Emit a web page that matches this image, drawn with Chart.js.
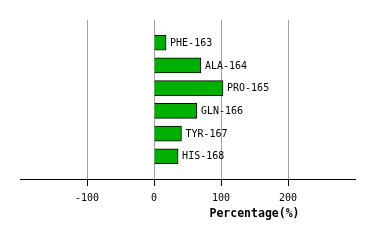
<!DOCTYPE html>
<html>
<head>
<meta charset="utf-8">
<script src="https://cdn.jsdelivr.net/npm/chart.js@4/dist/chart.umd.min.js"></script>
<style>
  html, body { margin: 0; padding: 0; background: #fff; }
  #wrap { width: 374px; height: 240px; }
</style>
</head>
<body>
<div id="wrap"><canvas id="chart"></canvas></div>
<script>
const categories = ['PHE-163', 'ALA-164', 'PRO-165', 'GLN-166', 'TYR-167', 'HIS-168'];
const percentages = [18, 70, 103, 64, 41, 36];
const tickValues = [-100, 0, 100, 200];
const axisTitle = 'Percentage(%)';

const MONO = '"DejaVu Sans Mono", "Liberation Mono", monospace';

// empty slot at each end so the bars sit like the original spacing
const labels = ['', ...categories, ''];
const values = [null, ...percentages, null];

const barLabels = {
  id: 'barLabels',
  afterDatasetsDraw(chart) {
    const ctx = chart.ctx;
    const meta = chart.getDatasetMeta(0);
    ctx.save();
    ctx.font = '10px ' + MONO;
    ctx.fillStyle = '#000';
    ctx.textBaseline = 'middle';
    ctx.textAlign = 'left';
    meta.data.forEach((bar, i) => {
      if (values[i] == null) return;
      ctx.fillText(labels[i], bar.x + 4, bar.y + 0.5);
    });
    ctx.restore();
  }
};

const axisLabel = {
  id: 'axisLabel',
  afterDraw(chart) {
    const ctx = chart.ctx;
    const x = chart.scales.x;
    ctx.save();
    ctx.font = 'bold 11.5px ' + MONO;
    ctx.fillStyle = '#000';
    ctx.textAlign = 'center';
    ctx.textBaseline = 'middle';
    ctx.fillText(axisTitle, x.getPixelForValue(150), 214);
    ctx.restore();
  }
};

const hidden = v => !tickValues.includes(v);

new Chart(document.getElementById('chart'), {
  type: 'bar',
  data: {
    labels,
    datasets: [{
      data: values,
      backgroundColor: '#00b000',
      borderColor: '#000',
      borderWidth: 1,
      barThickness: 15
    }]
  },
  options: {
    indexAxis: 'y',
    responsive: true,
    maintainAspectRatio: false,
    animation: false,
    layout: { padding: { left: 20, right: 19, top: 20, bottom: 30 } },
    plugins: {
      legend: { display: false },
      tooltip: { enabled: false }
    },
    scales: {
      x: {
        min: -200,
        max: 300,
        ticks: {
          stepSize: 100,
          color: '#000',
          font: { family: MONO, size: 10 },
          padding: 6,
          maxRotation: 0,
          callback: v => (hidden(v) ? '' : String(v))
        },
        grid: {
          color: ctx => (ctx.tick && hidden(ctx.tick.value) ? 'rgba(0,0,0,0)' : '#a0a0a0'),
          tickColor: ctx => (ctx.tick && hidden(ctx.tick.value) ? 'rgba(0,0,0,0)' : '#000'),
          tickLength: 7,
          lineWidth: 1
        },
        border: { display: true, color: '#000', width: 1 }
      },
      y: {
        display: false,
        offset: false
      }
    }
  },
  plugins: [barLabels, axisLabel]
});
</script>
</body>
</html>
